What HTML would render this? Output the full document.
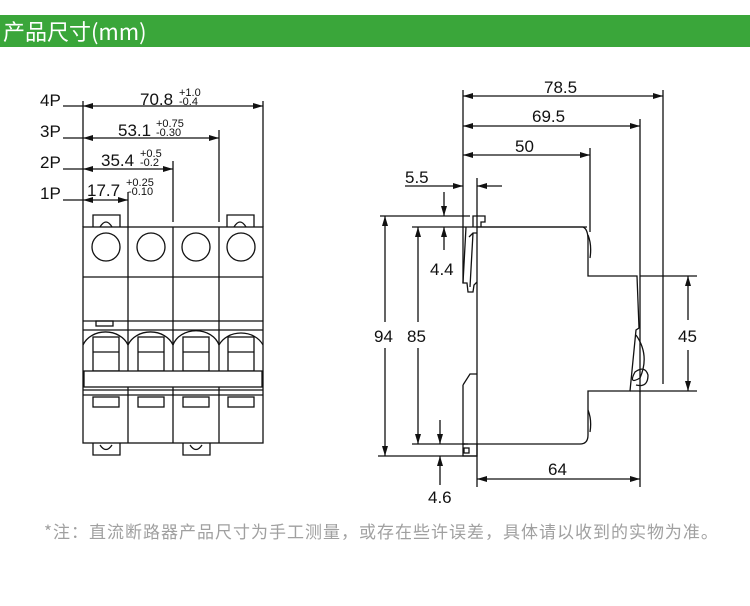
<!DOCTYPE html>
<html><head><meta charset="utf-8"><style>
body{margin:0;width:750px;height:606px;background:#fff;overflow:hidden;position:relative;font-family:"Liberation Sans","Noto Sans CJK SC",sans-serif}
.bar{position:absolute;left:0;top:15px;width:750px;height:32px;background:#3aa63a;color:#fff;font-size:22px;line-height:32px;padding-left:3px;font-family:"Noto Sans CJK SC","Liberation Sans",sans-serif}
.note{position:absolute;left:44px;top:518px;font-size:17px;color:#a0a0a0;font-family:"Noto Sans CJK SC",sans-serif;letter-spacing:1px;white-space:nowrap}
svg{position:absolute;left:0;top:0}
text{font-family:"Liberation Sans",sans-serif;fill:#111}
</style></head><body>
<div class="bar">产品尺寸(mm)</div>
<svg width="750" height="606" viewBox="0 0 750 606">
<defs><marker id="a" viewBox="0 0 10 6" refX="10" refY="3" markerWidth="11" markerHeight="6" orient="auto-start-reverse" markerUnits="userSpaceOnUse"><path d="M0,0L10,3L0,6z" fill="#111"/></marker></defs>
<g stroke="#111" stroke-width="1.3" fill="none">
<line x1="63" y1="106" x2="83" y2="106"/><line x1="83" y1="106" x2="263" y2="106" marker-start="url(#a)" marker-end="url(#a)"/>
<line x1="63" y1="138" x2="83" y2="138"/><line x1="83" y1="138" x2="219" y2="138" marker-start="url(#a)" marker-end="url(#a)"/>
<line x1="63" y1="169" x2="83" y2="169"/><line x1="83" y1="169" x2="173" y2="169" marker-start="url(#a)" marker-end="url(#a)"/>
<line x1="63" y1="200" x2="83" y2="200"/><line x1="83" y1="200" x2="128" y2="200" marker-start="url(#a)" marker-end="url(#a)"/>
<line x1="83" y1="101" x2="83" y2="227"/><line x1="263" y1="101" x2="263" y2="227"/>
<line x1="219" y1="130" x2="219" y2="222"/><line x1="173" y1="161" x2="173" y2="222"/><line x1="128" y1="192" x2="128" y2="227"/>
<rect x="83" y="227" width="180" height="216"/>
<line x1="128" y1="227" x2="128" y2="443"/><line x1="173" y1="227" x2="173" y2="443"/><line x1="219" y1="227" x2="219" y2="443"/>
<circle cx="106" cy="247" r="14"/><circle cx="151" cy="247" r="14"/><circle cx="196" cy="247" r="14"/><circle cx="241" cy="247" r="14"/>
<line x1="83" y1="277" x2="263" y2="277"/><line x1="83" y1="321" x2="263" y2="321"/><line x1="83" y1="330" x2="263" y2="330"/>
<rect x="96" y="321" width="17" height="5"/>
<path d="M83,345 A24,20 0 0 1 128,345 M128,345 A24,20 0 0 1 173,345 M173,345 A24,20 0 0 1 219,345 M219,345 A24,20 0 0 1 263,345"/>
<rect x="93" y="337" width="26" height="34"/><rect x="138" y="337" width="26" height="34"/><rect x="183" y="337" width="26" height="34"/><rect x="228" y="337" width="26" height="34"/>
<line x1="93" y1="352" x2="119" y2="352"/><line x1="138" y1="352" x2="164" y2="352"/><line x1="183" y1="352" x2="209" y2="352"/><line x1="228" y1="352" x2="254" y2="352"/>
<rect x="84" y="371" width="178" height="16" fill="#fff"/>
<line x1="83" y1="390" x2="263" y2="390"/><line x1="83" y1="395" x2="263" y2="395"/>
<rect x="93" y="397" width="26" height="10"/><rect x="138" y="397" width="26" height="10"/><rect x="183" y="397" width="26" height="10"/><rect x="228" y="397" width="26" height="10"/>
<path d="M93,227 L93,215 L120,215 L120,227 M100,227 Q106,217 112,227"/>
<path d="M227,227 L227,215 L254,215 L254,227 M234,227 Q240,217 246,227"/>
<path d="M93,443 L93,455 L120,455 L120,443 M100,445 Q106,454 112,445"/>
<path d="M183,443 L183,455 L210,455 L210,443 M190,445 Q196,454 202,445"/>
<line x1="463" y1="90" x2="463" y2="283"/>
<line x1="463" y1="96" x2="663" y2="96" marker-start="url(#a)" marker-end="url(#a)"/><line x1="663" y1="90" x2="663" y2="384"/>
<line x1="463" y1="126" x2="640" y2="126" marker-start="url(#a)" marker-end="url(#a)"/><line x1="640" y1="119" x2="640" y2="392"/>
<line x1="463" y1="155" x2="590" y2="155" marker-start="url(#a)" marker-end="url(#a)"/><line x1="590" y1="148" x2="590" y2="232"/>
<line x1="405" y1="186" x2="463" y2="186" marker-end="url(#a)"/><line x1="502" y1="186" x2="477" y2="186" marker-end="url(#a)"/>
<line x1="477" y1="178" x2="477" y2="487"/>
<line x1="380" y1="216" x2="470" y2="216"/><line x1="378" y1="456" x2="477" y2="456"/>
<line x1="385" y1="216" x2="385" y2="322" marker-start="url(#a)"/><line x1="385" y1="348" x2="385" y2="456" marker-end="url(#a)"/>
<line x1="412" y1="227" x2="587" y2="227"/><line x1="412" y1="444" x2="465" y2="444"/>
<line x1="418" y1="227" x2="418" y2="322" marker-start="url(#a)"/><line x1="418" y1="348" x2="418" y2="444" marker-end="url(#a)"/>
<line x1="444" y1="192" x2="444" y2="216" marker-end="url(#a)"/><line x1="444" y1="250" x2="444" y2="227" marker-end="url(#a)"/>
<line x1="440" y1="420" x2="440" y2="444" marker-end="url(#a)"/><line x1="440" y1="485" x2="440" y2="456" marker-end="url(#a)"/>
<line x1="640" y1="276" x2="697" y2="276"/><line x1="630" y1="391" x2="697" y2="391"/>
<line x1="688" y1="276" x2="688" y2="320" marker-start="url(#a)"/><line x1="688" y1="350" x2="688" y2="391" marker-end="url(#a)"/>
<line x1="477" y1="479" x2="640" y2="479" marker-start="url(#a)" marker-end="url(#a)"/><line x1="640" y1="391" x2="640" y2="487"/>
<path d="M477,227 L583,227 Q588,229 588,240 L588,276 L637,276 L639,328 L636,330 Q633,360 630,391 L588,391 L588,435 Q588,444 580,444 L477,444"/>
<path d="M588,235 Q592,245 590,258 M588,410 Q592,420 590,432"/>
<path d="M636,335 Q650,355 640,378 M640,378 Q628,385 635,372 Q645,365 648,375 Q648,388 636,385"/>
<path d="M466,227 L463,283 L467,283 L468,292 L473,292 L474,285 L477,282 M469,237 L473,233 L477,233 M473,233 L470,287"/>
<path d="M473,227 L473,216 L485,216 L485,222 L481,222 L481,227"/>
<path d="M463,385 L463,444 L468,444 M463,385 L470,374 L477,374"/>
<rect x="463" y="444" width="14" height="12"/><rect x="464" y="448" width="5" height="5"/>
</g>
<g font-size="17">
<text x="40" y="106">4P</text><text x="40" y="137">3P</text><text x="40" y="168">2P</text><text x="40" y="199">1P</text>
<text x="140" y="105">70.8</text><text x="179" y="96" font-size="11">+1.0</text><text x="179" y="105" font-size="11">-0.4</text>
<text x="118" y="136">53.1</text><text x="156" y="127" font-size="11">+0.75</text><text x="156" y="136" font-size="11">-0.30</text>
<text x="101" y="166">35.4</text><text x="140" y="157" font-size="11">+0.5</text><text x="140" y="166" font-size="11">-0.2</text>
<text x="87" y="196">17.7</text><text x="126" y="186" font-size="11">+0.25</text><text x="128" y="195" font-size="11">-0.10</text>
<text x="544" y="93">78.5</text><text x="532" y="122">69.5</text><text x="515" y="152">50</text>
<text x="405" y="183">5.5</text><text x="430" y="275">4.4</text><text x="374" y="342">94</text><text x="407" y="342">85</text>
<text x="678" y="342">45</text><text x="548" y="475">64</text><text x="428" y="503">4.6</text>
</g>
</svg>
<div class="note">*注：直流断路器产品尺寸为手工测量，或存在些许误差，具体请以收到的实物为准。</div>
</body></html>
